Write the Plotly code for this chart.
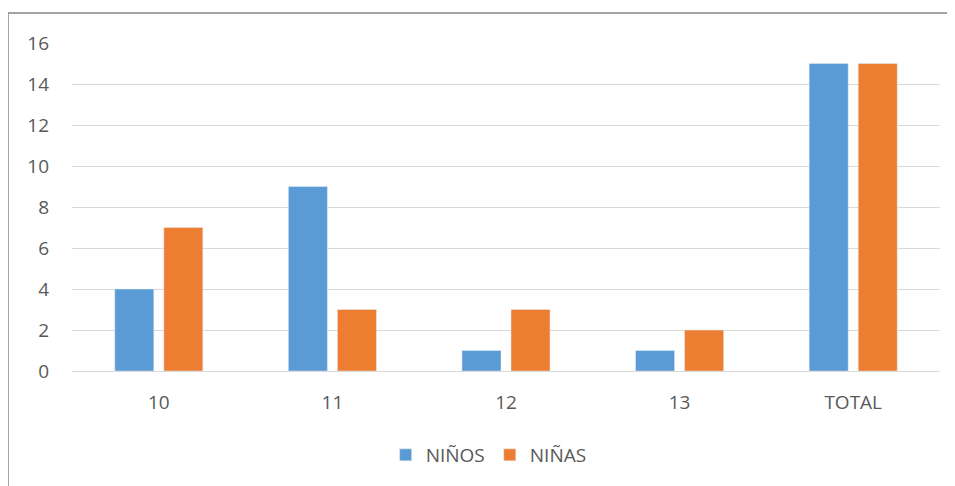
import plotly.graph_objects as go

categories = ["10", "11", "12", "13", "TOTAL"]
ninos = [4, 9, 1, 1, 15]
ninas = [7, 3, 3, 2, 15]
y_ticks = [0, 2, 4, 6, 8, 10, 12, 14, 16]

# page body adds an 8px offset; size the figure so the plot lands where the reference has it
W, H = 947, 478
L, R, T, B = 64, 15, 35, 115
pw = W - L - R
ph = H - T - B

fig = go.Figure()
fig.add_trace(go.Bar(name="NIÑOS", x=categories, y=ninos, marker=dict(color="#5B9BD5")))
fig.add_trace(go.Bar(name="NIÑAS", x=categories, y=ninas, marker=dict(color="#ED7D31")))

font = dict(family="Open Sans, Liberation Sans, sans-serif", size=19, color="#595959")

fig.update_layout(
    width=W, height=H,
    margin=dict(l=L, r=R, t=T, b=B),
    paper_bgcolor="white", plot_bgcolor="white",
    barmode="group", bargap=0.435, bargroupgap=0.204,
    font=font,
    legend=dict(orientation="h", x=0.48, xanchor="center", y=-84 / ph, yanchor="middle",
                font=font, itemwidth=30, traceorder="normal"),
    xaxis=dict(showline=True, linecolor="#D9D9D9", linewidth=1, showgrid=False,
               ticks="", tickfont=font, ticklabelstandoff=14),
    yaxis=dict(range=[0, 16], tickvals=y_ticks, showgrid=True, gridcolor="#D9D9D9",
               gridwidth=1, zeroline=False, showline=False, ticks="", ticklabelstandoff=22,
               tickfont=font),
    shapes=[
        dict(type="line", xref="paper", yref="paper",
             x0=(0 - L) / pw, x1=(W + 10 - L) / pw, y0=(H - B - 5) / ph, y1=(H - B - 5) / ph,
             line=dict(color="#868686", width=1.5)),
        dict(type="line", xref="paper", yref="paper",
             x0=(0 - L) / pw, x1=(0 - L) / pw, y0=(H - B - 5) / ph, y1=-(B + 10) / ph,
             line=dict(color="#868686", width=1.5)),
    ],
)

fig.write_html("out.html")
